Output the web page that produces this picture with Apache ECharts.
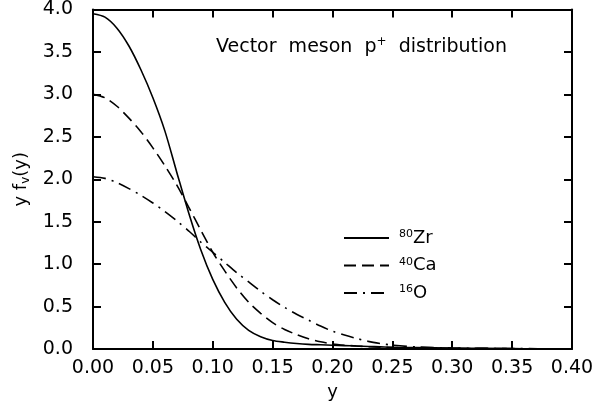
<!DOCTYPE html>
<html>
<head>
<meta charset="utf-8">
<script src="https://cdn.jsdelivr.net/npm/echarts@6/dist/echarts.min.js"></script>
<style>
html,body{margin:0;padding:0;background:#fff;}
#chart{width:615px;height:411px;}
</style>
</head>
<body>
<div id="chart"></div>
<script>
// x values (y variable)
const xValues = [0.00,0.01,0.02,0.03,0.04,0.05,0.06,0.07,0.08,0.09,0.10,0.11,0.12,0.13,0.14,0.15,0.16,0.17,0.18,0.19,0.20,0.21,0.22,0.23,0.24,0.25,0.27,0.30,0.35,0.40];
const zr80 = [3.95,3.91,3.78,3.57,3.29,2.96,2.57,2.08,1.60,1.17,0.82,0.55,0.35,0.22,0.145,0.10,0.08,0.065,0.055,0.05,0.045,0.04,0.035,0.03,0.025,0.02,0.016,0.01,0.005,0.002];
const ca40 = [3.00,2.96,2.86,2.72,2.56,2.37,2.16,1.93,1.67,1.40,1.14,0.92,0.72,0.55,0.42,0.31,0.23,0.17,0.12,0.085,0.06,0.045,0.035,0.027,0.022,0.018,0.013,0.008,0.004,0.002];
const o16 = [2.03,2.01,1.96,1.89,1.81,1.72,1.62,1.51,1.39,1.26,1.14,1.02,0.90,0.79,0.68,0.58,0.49,0.41,0.34,0.27,0.21,0.165,0.125,0.09,0.065,0.045,0.025,0.012,0.005,0.002];
const seriesNames = ['80Zr','40Ca','16O'];
const xTicks = ['0.00','0.05','0.10','0.15','0.20','0.25','0.30','0.35','0.40'];
const yTicks = ['0.0','0.5','1.0','1.5','2.0','2.5','3.0','3.5','4.0'];
const titleText = 'Vector  meson  p';

const FONT = 'DejaVu Sans';
const pair = ys => xValues.map((x,i)=>[x,ys[i]]);
const axisLine = {show:true, onZero:false, lineStyle:{color:'#000', width:2}};
const tick = {show:true, inside:true, length:8, lineStyle:{color:'#000', width:2}};

const chart = echarts.init(document.getElementById('chart'), null, {renderer:'canvas'});
chart.setOption({
  animation:false,
  backgroundColor:'#fff',
  grid:{left:93, right:43, top:9, bottom:62, containLabel:false},
  title:{
    text: titleText + '{sup|+}  distribution',
    left: 211, top: 31,
    textStyle:{fontFamily:FONT, fontSize:19, fontWeight:'normal', color:'#000',
      rich:{sup:{fontFamily:FONT, fontSize:12, color:'#000', padding:[0,0,10,0]}}}
  },
  legend:{
    orient:'vertical', left:338, top:224, itemWidth:45, itemHeight:14, itemGap:9.5,
    data: seriesNames,
    itemStyle:{opacity:0},
    formatter: n => '{gap|}{sup|' + n.match(/^\d+/)[0] + '}{base|' + n.replace(/^\d+/,'') + '}',
    textStyle:{fontFamily:FONT, color:'#000',
      rich:{gap:{width:5}, sup:{fontFamily:FONT, fontSize:11, color:'#000', padding:[0,0,7,0]},
            base:{fontFamily:FONT, fontSize:18, color:'#000'}}}
  },
  xAxis:[{
    type:'value', min:0, max:0.4, interval:0.05, position:'bottom',
    name:'y', nameLocation:'middle', nameGap:32,
    nameTextStyle:{fontFamily:FONT, fontSize:18, color:'#000'},
    axisLine:axisLine, axisTick:tick, splitLine:{show:false},
    axisLabel:{fontFamily:FONT, fontSize:19, color:'#000', margin:10,
      formatter: v => xTicks[Math.round(v/0.05)]}
  },{
    type:'value', min:0, max:0.4, interval:0.05, position:'top',
    axisLine:axisLine, axisTick:tick, splitLine:{show:false}, axisLabel:{show:false}
  }],
  yAxis:[{
    type:'value', min:0, max:4, interval:0.5, position:'left',
    name:'y f{sub|v}(y)', nameLocation:'middle', nameGap:58, nameRotate:90,
    nameTextStyle:{fontFamily:FONT, fontSize:18, color:'#000',
      rich:{sub:{fontFamily:FONT, fontSize:12, color:'#000', padding:[9,0,0,0]}}},
    axisLine:axisLine, axisTick:tick, splitLine:{show:false},
    axisLabel:{fontFamily:FONT, fontSize:19, color:'#000', margin:20,
      formatter: v => yTicks[Math.round(v/0.5)]}
  },{
    type:'value', min:0, max:4, interval:0.5, position:'right',
    axisLine:axisLine, axisTick:tick, splitLine:{show:false}, axisLabel:{show:false}
  }],
  series:[
    {name:seriesNames[0], type:'line', data:pair(zr80), smooth:0.3, showSymbol:false, symbol:'none',
     lineStyle:{color:'#000', width:1.6, type:'solid'}, itemStyle:{color:'#000'}},
    {name:seriesNames[1], type:'line', data:pair(ca40), smooth:0.3, showSymbol:false, symbol:'none',
     lineStyle:{color:'#000', width:1.6, type:[12,6]}, itemStyle:{color:'#000'}},
    {name:seriesNames[2], type:'line', data:pair(o16), smooth:0.3, showSymbol:false, symbol:'none',
     lineStyle:{color:'#000', width:1.6, type:[13,6,2,6]}, itemStyle:{color:'#000'}}
  ]
});
</script>
</body>
</html>
